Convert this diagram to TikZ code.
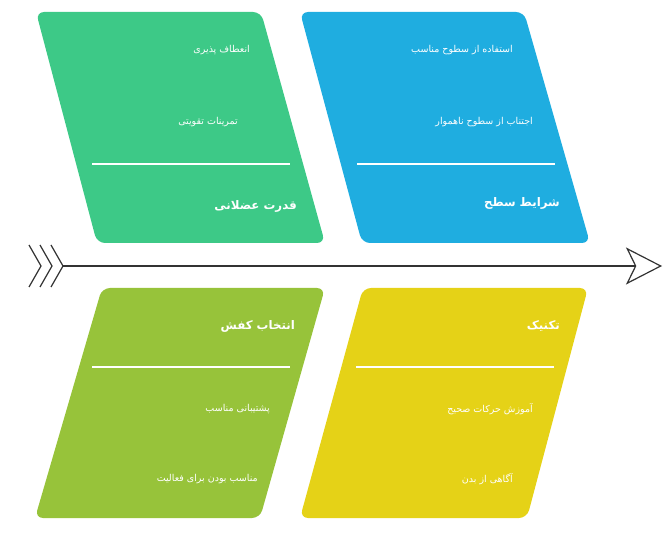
\documentclass[tikz,border=0pt]{standalone}
\usepackage{fontspec}
\newfontfamily\arabicfont[Script=Arabic]{DejaVu Sans}
\TeXXeTstate=1
\usetikzlibrary{arrows.meta}
\definecolor{grn}{HTML}{3DC987}
\definecolor{blu}{HTML}{1FADE0}
\definecolor{lim}{HTML}{97C33A}
\definecolor{ylw}{HTML}{E5D217}
\definecolor{spine}{HTML}{333333}
\tikzset{
  item/.style={text=white, anchor=east, inner sep=0pt, font=\arabicfont\fontsize{9.5}{11}\selectfont},
  title/.style={item, font=\arabicfont\bfseries\fontsize{11.8}{14}\selectfont},
  sep/.style={white, line width=1.2pt}
}
\begin{document}
\begin{tikzpicture}[x=1pt,y=-1pt]
			\useasboundingbox (0,0) rectangle (666,534);
			\foreach \col/\ya/\yb/\a/\b/\c/\d in {grn/12/243/36/261/325/97, blu/12/243/300/524/590/362,
			                                       lim/288/518/102/325/260/35, ylw/288/518/363/588/527/300}{
				\fill [\col, rounded corners=8pt] (\a,\ya)--(\b,\ya)--(\c,\yb)--(\d,\yb)--cycle;
			}
			\foreach \x/\y in {92/164,357/164,92/367,356/367}{
				\draw [sep] (\x,\y)--(\x+198,\y);
			}
			% top left
			\node [item] (enetaf) at (250,50) {\beginR انعطاف پذیری\endR};
			\node [item] (tamrin) at (238,122) {\beginR تمرینات تقویتی\endR};
			\node [title] (ghodrat) at (297,206) {\beginR قدرت عضلانی\endR};
			% top right
			\node [item] (estefade) at (513,50) {\beginR استفاده از سطوح مناسب\endR};
			\node [item] (ejtenab) at (533,122) {\beginR اجتناب از سطوح ناهموار\endR};
			\node [title] (sharayet) at (560,203) {\beginR شرایط سطح\endR};
			% bottom left
			\node [title] (kafsh) at (295,326) {\beginR انتخاب کفش\endR};
			\node [item] (poshtibani) at (270,409) {\beginR پشتیبانی مناسب\endR};
			\node [item] (faaliat) at (258,479) {\beginR مناسب بودن برای فعالیت\endR};
			% bottom right
			\node [title] (technic) at (560,326) {\beginR تکنیک\endR};
			\node [item] (harekat) at (533,409) {\beginR آموزش حرکات صحیح\endR};
			\node [item] (agahi) at (513,479) {\beginR آگاهی از بدن\endR};
			% spine
			\coordinate (tail) at (62,266);
			\coordinate (head) at (662,266);
			\foreach \i in {0,1,2}{
				\draw [spine, line width=1.2pt] (29+11*\i,245)--(41+11*\i,266)--(29+11*\i,287);
			}
			\draw [spine, line width=1.2pt, -{Stealth[open, fill=white, length=36pt, width=37pt, inset=9pt]}] (tail)--(head);
\end{tikzpicture}
\end{document}
